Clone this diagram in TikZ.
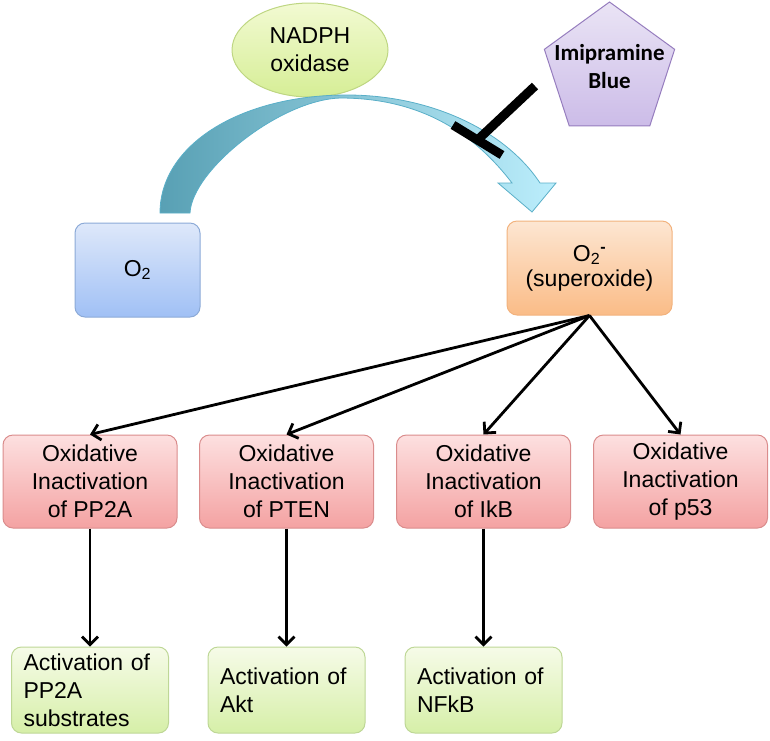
\documentclass[tikz,border=0pt]{standalone}
\usepackage{fontspec}
\setmainfont{Liberation Sans}
\newfontfamily\calibri{Carlito}
\usetikzlibrary{arrows.meta,shapes.geometric}

\definecolor{redtop}{RGB}{253,224,224}
\definecolor{redbot}{RGB}{244,162,162}
\definecolor{redline}{RGB}{218,140,140}
\definecolor{grntop}{RGB}{246,251,232}
\definecolor{grnbot}{RGB}{214,239,168}
\definecolor{grnline}{RGB}{190,215,150}
\definecolor{blutop}{RGB}{222,232,250}
\definecolor{blubot}{RGB}{160,192,245}
\definecolor{bluline}{RGB}{140,170,215}
\definecolor{orgtop}{RGB}{253,230,210}
\definecolor{orgbot}{RGB}{250,188,135}
\definecolor{orgline}{RGB}{242,178,125}
\definecolor{elltop}{RGB}{242,250,210}
\definecolor{ellbot}{RGB}{214,238,150}
\definecolor{ellline}{RGB}{190,214,130}
\definecolor{pentop}{RGB}{234,228,245}
\definecolor{penbot}{RGB}{204,188,232}
\definecolor{penline}{RGB}{150,125,190}
\definecolor{arrdark}{RGB}{88,160,180}
\definecolor{arrlight}{RGB}{188,238,252}
\definecolor{arrline}{RGB}{90,175,200}

\begin{document}
\begin{tikzpicture}[x=1pt,y=-1pt,
  every node/.style={font=\fontsize{23}{28}\selectfont},
  box/.style={rectangle, rounded corners=10pt, line width=1pt, inner sep=0pt, align=center},
  redbox/.style={box, top color=redtop, bottom color=redbot, draw=redline,
    minimum width=174pt, minimum height=93pt},
  grnbox/.style={box, top color=grntop, bottom color=grnbot, draw=grnline,
    minimum width=157pt, minimum height=86pt, text width=133pt, align=left},
  blubox/.style={box, top color=blutop, bottom color=blubot, draw=bluline},
  orgbox/.style={box, top color=orgtop, bottom color=orgbot, draw=orgline},
  enzyme/.style={ellipse, inner sep=0pt, line width=1pt, top color=elltop,
    bottom color=ellbot, draw=ellline, align=center},
  drugshape/.style={regular polygon, regular polygon sides=5, inner sep=0pt,
    minimum size=137pt, line width=1pt, top color=pentop, bottom color=penbot, draw=penline},
  link/.style={line width=2.8pt, -{Straight Barb[length=8pt,width=16pt]}},
  inhibit/.style={line width=9pt, black}
]
\useasboundingbox (0,0) rectangle (770,740);

% top elements
\node[enzyme, minimum width=156pt, minimum height=94pt] (nadph) at (310,50) {NADPH\\oxidase};
\node[drugshape] (imi) at (609.5,70.5) {};
\node[font=\calibri\bfseries\fontsize{23}{28}\selectfont, align=center] (imitext) at (609.5,67) {Imipramine\\Blue};

\node[blubox, minimum width=125pt, minimum height=94pt] (o2) at (137.5,270) {O\textsubscript{2}};
\node[orgbox, minimum width=165pt, minimum height=94pt] (sup) at (589.5,268)
  {O\textsubscript{2}\textsuperscript{\textbf{-}}\\[-3pt](superoxide)};

% curved block arrow
\path[draw=arrline, line width=0.8pt, left color=arrdark, right color=arrlight]
 (160,213) .. controls (160,145) and (240,95) .. (347,95)
 .. controls (430,95) and (505,130) .. (540,183)
 -- (556,183) -- (532,212) -- (498,183) -- (512,183)
 .. controls (470,128) and (415,98) .. (340,98)
 .. controls (280,100) and (192,170) .. (190,213) -- cycle;

% inhibition
\coordinate (inhStart) at (535,86);
\coordinate (inhEnd) at (477.5,140);
\coordinate (barA) at (453,125);
\coordinate (barB) at (502,155);
\draw[inhibit] (inhStart) -- (inhEnd);
\draw[inhibit] (barA) -- (barB);

% red boxes
\node[redbox] (r1) at (90,481.5) {Oxidative\\Inactivation\\of PP2A};
\node[redbox] (r2) at (286.5,481.5) {Oxidative\\Inactivation\\of PTEN};
\node[redbox] (r3) at (483.5,481.5) {Oxidative\\Inactivation\\of IkB};
\node[redbox] (r4) at (680.5,481.5) {Oxidative\\Inactivation\\of p53};

% green boxes
\node[grnbox] (g1) at (90,690) {Activation of\\PP2A\\substrates};
\node[grnbox] (g2) at (286.5,690) {Activation of\\Akt};
\node[grnbox] (g3) at (483.5,690) {Activation of\\NFkB};

% connectors
\draw[link] (sup.south) -- (r1.north);
\draw[link] (sup.south) -- (r2.north);
\draw[link] (sup.south) -- (r3.north);
\draw[link] (sup.south) -- (r4.north);
\draw[link] (r1.south) -- (g1.north);
\draw[link] (r2.south) -- (g2.north);
\draw[link] (r3.south) -- (g3.north);
\end{tikzpicture}
\end{document}
